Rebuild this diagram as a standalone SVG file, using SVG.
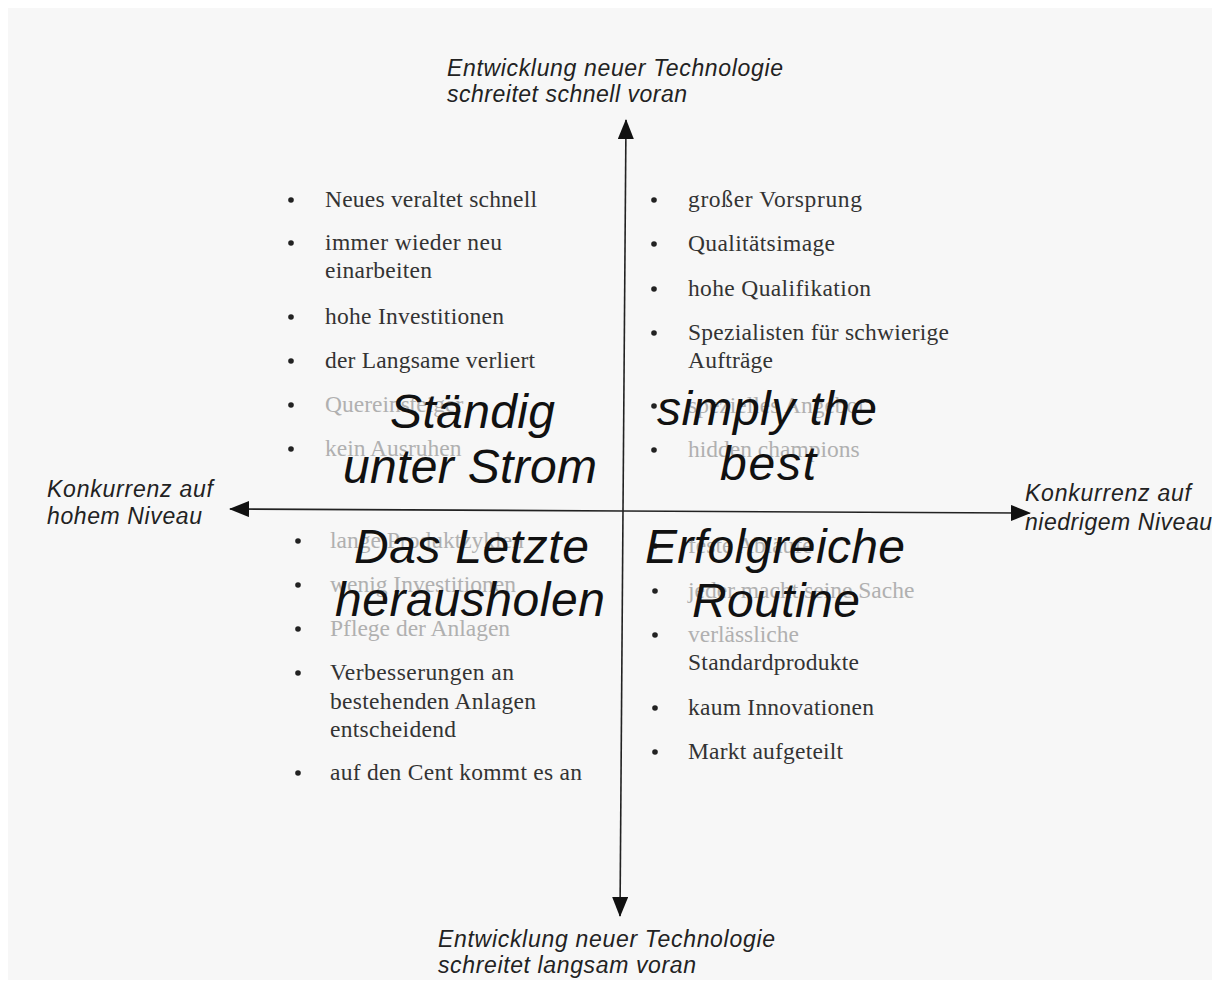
<svg xmlns="http://www.w3.org/2000/svg" width="1220" height="986" viewBox="0 0 1220 986">
<defs>
<style>
.ax{font-family:"Liberation Sans",Arial,sans-serif;font-style:italic;font-size:23px;fill:#222}
.big{font-family:"Liberation Sans",Arial,sans-serif;font-style:italic;font-size:48px;fill:#111}
.b{font-family:"Liberation Serif","Times New Roman",serif;font-size:23.5px;fill:#333}
.f{fill:#b0b0b0}
.dot{fill:#222}
.line{stroke:#222;stroke-width:1.6;fill:none}
</style>
<marker id="ah" viewBox="0 0 20 16" refX="19" refY="8" markerWidth="20" markerHeight="16" markerUnits="userSpaceOnUse" orient="auto">
<path d="M0,0 L20,8 L0,16 Z" fill="#111"/>
</marker>
</defs>
<rect x="0" y="0" width="1220" height="986" fill="#ffffff"/>
<rect x="8" y="8" width="1204" height="972" fill="#f7f7f7"/>

<g id="connectors">
<line class="line" x1="623" y1="510" x2="626" y2="120" marker-end="url(#ah)"/>
<line class="line" x1="623" y1="510" x2="620" y2="916" marker-end="url(#ah)"/>
<line class="line" x1="623" y1="511" x2="230" y2="509" marker-end="url(#ah)"/>
<line class="line" x1="623" y1="511" x2="1030" y2="513" marker-end="url(#ah)"/>
</g>

<g id="label-top">
<text class="ax" x="447" y="76" textLength="336">Entwicklung neuer Technologie</text>
<text class="ax" x="447" y="102" textLength="240">schreitet schnell voran</text>
</g>
<g id="label-bottom">
<text class="ax" x="438" y="947" textLength="337">Entwicklung neuer Technologie</text>
<text class="ax" x="438" y="973" textLength="258">schreitet langsam voran</text>
</g>
<g id="label-left">
<text class="ax" x="47" y="497" textLength="166">Konkurrenz auf</text>
<text class="ax" x="47" y="524" textLength="155">hohem Niveau</text>
</g>
<g id="label-right">
<text class="ax" x="1025" y="501" textLength="166">Konkurrenz auf</text>
<text class="ax" x="1025" y="530" textLength="187">niedrigem Niveau</text>
</g>

<g id="q-top-left">
<circle class="dot" cx="291" cy="200" r="2.8"/><text class="b" x="325" y="207" textLength="212">Neues veraltet schnell</text>
<circle class="dot" cx="291" cy="243" r="2.8"/><text class="b" x="325" y="250" textLength="177">immer wieder neu</text>
<text class="b" x="325" y="278" textLength="107">einarbeiten</text>
<circle class="dot" cx="291" cy="317" r="2.8"/><text class="b" x="325" y="324" textLength="179">hohe Investitionen</text>
<circle class="dot" cx="291" cy="361" r="2.8"/><text class="b" x="325" y="368" textLength="210">der Langsame verliert</text>
<circle class="dot" cx="291" cy="405" r="2.8"/><text class="b f" x="325" y="412">Quereinsteiger</text>
<circle class="dot" cx="291" cy="449" r="2.8"/><text class="b f" x="325" y="456">kein Ausruhen</text>
<text class="big" x="390" y="428" textLength="165">Ständig</text>
<text class="big" x="343" y="483" textLength="254">unter Strom</text>
</g>

<g id="q-top-right">
<circle class="dot" cx="654" cy="200" r="2.8"/><text class="b" x="688" y="207" textLength="174">großer Vorsprung</text>
<circle class="dot" cx="654" cy="244" r="2.8"/><text class="b" x="688" y="251" textLength="147">Qualitätsimage</text>
<circle class="dot" cx="654" cy="289" r="2.8"/><text class="b" x="688" y="296" textLength="183">hohe Qualifikation</text>
<circle class="dot" cx="654" cy="333" r="2.8"/><text class="b" x="688" y="340" textLength="261">Spezialisten für schwierige</text>
<text class="b" x="688" y="368" textLength="85">Aufträge</text>
<circle class="dot" cx="654" cy="406" r="2.8"/><text class="b f" x="688" y="413">spezielles Angebot</text>
<circle class="dot" cx="654" cy="450" r="2.8"/><text class="b f" x="688" y="457">hidden champions</text>
<text class="big" x="657" y="425" textLength="220">simply the</text>
<text class="big" x="720" y="480" textLength="96">best</text>
</g>

<g id="q-bottom-left">
<circle class="dot" cx="298" cy="541" r="2.8"/><text class="b f" x="330" y="548">lange Produktzyklen</text>
<circle class="dot" cx="298" cy="585" r="2.8"/><text class="b f" x="330" y="592">wenig Investitionen</text>
<circle class="dot" cx="298" cy="629" r="2.8"/><text class="b f" x="330" y="636">Pflege der Anlagen</text>
<circle class="dot" cx="298" cy="673" r="2.8"/><text class="b" x="330" y="680" textLength="184">Verbesserungen an</text>
<text class="b" x="330" y="709" textLength="206">bestehenden Anlagen</text>
<text class="b" x="330" y="737" textLength="126">entscheidend</text>
<circle class="dot" cx="298" cy="773" r="2.8"/><text class="b" x="330" y="780" textLength="252">auf den Cent kommt es an</text>
<text class="big" x="354" y="563" textLength="235">Das Letzte</text>
<text class="big" x="335" y="616" textLength="270">herausholen</text>
</g>

<g id="q-bottom-right">
<circle class="dot" cx="655" cy="546" r="2.8"/><text class="b f" x="688" y="553">feste Abläufe</text>
<circle class="dot" cx="655" cy="591" r="2.8"/><text class="b f" x="688" y="598">jeder macht seine Sache</text>
<circle class="dot" cx="655" cy="635" r="2.8"/><text class="b f" x="688" y="642">verlässliche</text>
<text class="b" x="688" y="670" textLength="171">Standardprodukte</text>
<circle class="dot" cx="655" cy="708" r="2.8"/><text class="b" x="688" y="715" textLength="186">kaum Innovationen</text>
<circle class="dot" cx="655" cy="752" r="2.8"/><text class="b" x="688" y="759" textLength="155">Markt aufgeteilt</text>
<text class="big" x="645" y="563" textLength="260">Erfolgreiche</text>
<text class="big" x="692" y="617" textLength="168">Routine</text>
</g>
</svg>
